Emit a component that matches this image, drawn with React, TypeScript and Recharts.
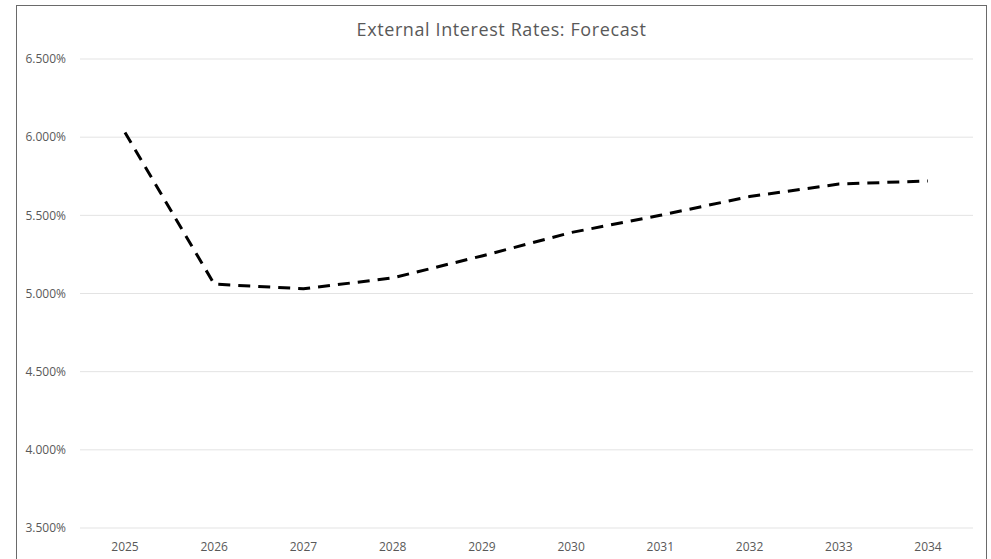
import React from "react";
import { LineChart, Line, XAxis, YAxis, CartesianGrid } from "recharts";

const YEARS = ["2025", "2026", "2027", "2028", "2029", "2030", "2031", "2032", "2033", "2034"];
const RATES = [6.03, 5.06, 5.03, 5.1, 5.24, 5.39, 5.5, 5.62, 5.7, 5.72];
const Y_TICKS = [3.5, 4.0, 4.5, 5.0, 5.5, 6.0, 6.5];
const TITLE = "External Interest Rates: Forecast";

const FONT = "'Open Sans', sans-serif";
const TEXT = "#595959";
const GRID = "#e3e3e3";

const data = YEARS.map((year, i) => ({ year, rate: RATES[i] }));

const tickStyle = { fill: TEXT, fontSize: 12, fontFamily: FONT } as const;

export default function App() {
  return (
    <div style={{ position: "absolute", left: 0, top: 0, width: 991, height: 559, background: "#fff", overflow: "hidden" }}>
      <div
        style={{
          position: "absolute", left: 16, top: 5, width: 971, height: 554,
          border: "1px solid #6a6a6a", borderBottom: "none", boxSizing: "border-box",
        }}
      />
      <div
        style={{
          position: "absolute", left: 0, width: 1003, top: 17, textAlign: "center",
          fontFamily: FONT, fontSize: 18, letterSpacing: 0.6, color: TEXT,
        }}
      >
        {TITLE}
      </div>
      <div style={{ position: "absolute", left: 0, top: 0 }}>
        <LineChart width={991} height={559} data={data} margin={{ top: 59, right: 18, bottom: 0, left: 0 }}>
          <CartesianGrid stroke={GRID} vertical={false} />
          <XAxis
            dataKey="year"
            tick={tickStyle}
            tickLine={false}
            axisLine={false}
            tickMargin={8}
            height={31}
            padding={{ left: 45, right: 45 }}
          />
          <YAxis
            domain={[3.5, 6.5]}
            ticks={Y_TICKS}
            tick={tickStyle}
            tickLine={false}
            axisLine={false}
            tickMargin={8}
            width={80}
            tickFormatter={(v: number) => `${v.toFixed(3)}%`}
          />
          <Line
            type="linear"
            dataKey="rate"
            stroke="#000"
            strokeWidth={3}
            strokeDasharray="12 8"
            dot={false}
            isAnimationActive={false}
          />
        </LineChart>
      </div>
    </div>
  );
}
